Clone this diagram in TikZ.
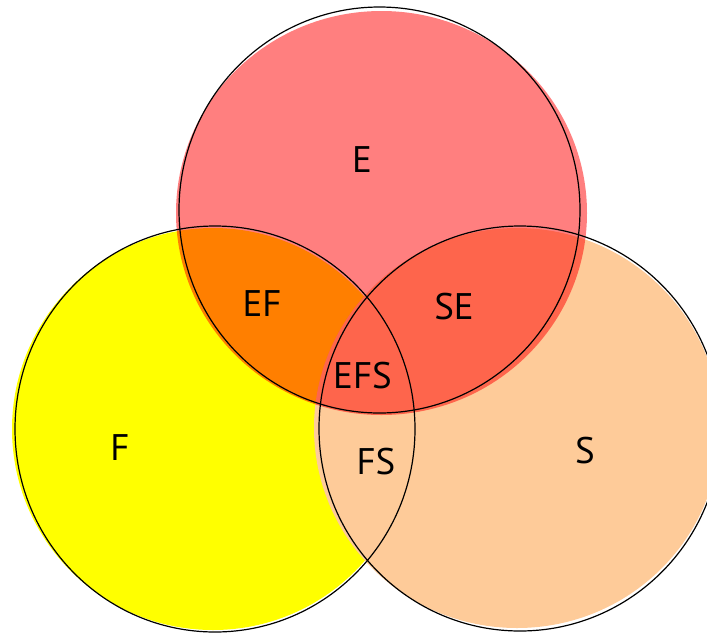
\documentclass[tikz,border=0pt]{standalone}
\usepackage{fontspec}
\setmainfont{PT Sans}
\definecolor{efill}{RGB}{255,0,0}
\definecolor{ffill}{RGB}{255,255,0}
\definecolor{sfill}{RGB}{254,203,153}
\tikzset{
  outline/.style={draw=black,line width=1.2pt},
  lbl/.style={font=\fontsize{37}{40}\selectfont,text height=26pt,text depth=0pt,inner sep=0pt}
}
\begin{document}
\begin{tikzpicture}[x=1pt,y=-1pt]
\useasboundingbox (0,0) rectangle (707,633);
\clip (0,0) rectangle (707,633);
% fills
\fill[ffill] (213,429) ellipse [x radius=201,y radius=201];
\fill[sfill] (517,428) ellipse [x radius=203,y radius=200];
\fill[efill,fill opacity=0.5] (381.5,213) ellipse [x radius=205.5,y radius=202];
% outlines
\draw[outline] (215,429) ellipse [x radius=200,y radius=203];
\draw[outline] (520,428.5) ellipse [x radius=201,y radius=202.5];
\draw[outline] (379.5,210) ellipse [x radius=200.5,y radius=203];
% labels
\node[lbl] (E) at (362,159) {E};
\node[lbl] (EF) at (262,303) {EF};
\node[lbl] (F) at (120,447) {F};
\node[lbl] (SE) at (454,306) {SE};
\node[lbl] (EFS) at (362.5,375) {EFS};
\node[lbl] (FS) at (376,461) {FS};
\node[lbl] (S) at (585,450) {S};
\end{tikzpicture}
\end{document}
